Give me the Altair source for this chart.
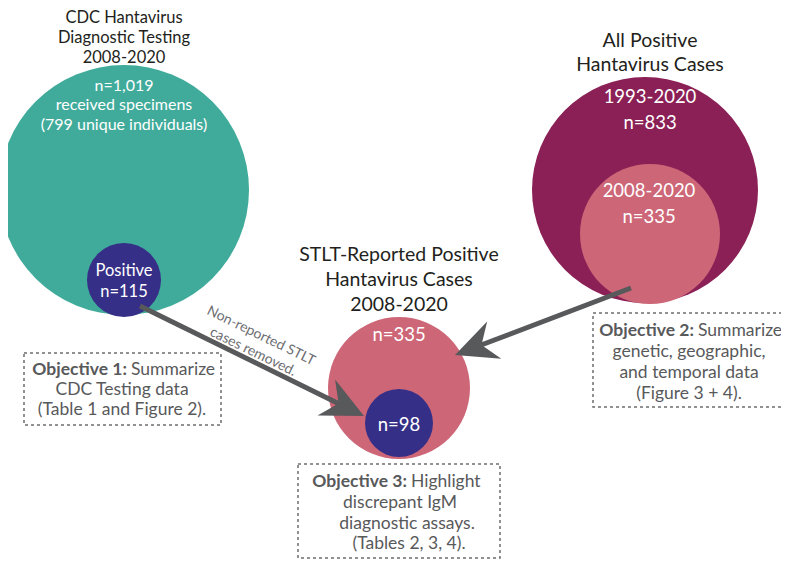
import math
import altair as alt
import pandas as pd

# ---------------- data ----------------
circle_names = ["CDC testing", "CDC positive", "All positive 1993-2020",
                "All positive 2008-2020", "STLT-reported", "STLT positive"]
circle_x = [124, 124, 645, 650, 399, 399]
circle_y = [190, 280, 190, 234, 388, 423]
circle_r = [125, 37, 113, 70, 71, 34]
circle_color = ["#40ab9b", "#352f87", "#8a2055", "#cd6677", "#cd6677", "#352f87"]

arrow_start_x = [140, 631]
arrow_start_y = [306, 288]
arrow_tip_x = [364, 455]
arrow_tip_y = [416, 355]

box_x1 = [24, 593, 298]
box_x2 = [221, 784, 500]
box_y1 = [353, 313, 464]
box_y2 = [425, 407, 558]

cdc_title = ["CDC Hantavirus", "Diagnostic Testing", "2008-2020"]
cdc_title_x = [124, 124, 124]
cdc_title_y = [18, 38, 58]

big_title = ["All Positive", "Hantavirus Cases",
             "STLT-Reported Positive", "Hantavirus Cases", "2008-2020"]
big_title_x = [650, 650, 399, 399, 399]
big_title_y = [41, 65, 255, 280, 305]

teal_text = ["n=1,019", "received specimens", "(799 unique individuals)"]
teal_x = [124, 124, 124]
teal_y = [85.5, 105, 124.5]

pos_text = ["Positive", "n=115"]
pos_x = [124, 124]
pos_y = [271, 292]

big_inner_text = ["1993-2020", "n=833", "2008-2020", "n=335", "n=335", "n=98"]
big_inner_x = [650, 650, 649, 649, 399, 399]
big_inner_y = [97, 123, 191, 217, 335, 425]

note_text = ["Non-reported STLT", "cases removed."]
note_x = [261, 253]
note_y = [336, 352]

obj_bold = ["Objective 1:", "Objective 2:", "Objective 3:"]
obj_bold_x = [127, 694, 407]
obj_bold_y = [370, 331, 482]
obj_rest = ["Summarize", "Summarize", "Highlight"]
obj_line_text = ["CDC Testing data", "(Table 1 and Figure 2).",
                 "genetic, geographic,", "and temporal data", "(Figure 3 + 4).",
                 "discrepant IgM", "diagnostic assays.", "(Tables 2, 3, 4)."]
obj_line_x = [122, 122, 689, 689, 689, 400, 407, 409]
obj_line_y = [390, 410, 352, 373, 394, 503, 524, 544]

# ---------------- styles ----------------
GRAY = "#58595b"
FONT = "Lato"
W, H = 773, 553
xs = alt.Scale(domain=[8, 8 + W], nice=False, zero=False)
ys = alt.Scale(domain=[8 + H, 8], nice=False, zero=False)


def X(f="x"):
    return alt.X(f"{f}:Q", scale=xs, axis=None)


def Y(f="y"):
    return alt.Y(f"{f}:Q", scale=ys, axis=None)


circles = pd.DataFrame({
    "name": circle_names, "x": circle_x, "y": circle_y,
    "s": [(2 * r) ** 2 for r in circle_r], "c": circle_color,
    "i": list(range(len(circle_names))),
})
circle_layer = alt.Chart(circles).mark_circle(opacity=1).encode(
    x=X(), y=Y(), size=alt.Size("s:Q", scale=None),
    color=alt.Color("c:N", scale=None), order=alt.Order("i:Q"))

# arrows
HEAD = 21  # half-length of arrowhead (px)
rows_line, rows_head = [], []
for sx, sy, tx, ty in zip(arrow_start_x, arrow_start_y, arrow_tip_x, arrow_tip_y):
    dx, dy = tx - sx, ty - sy
    L = math.hypot(dx, dy)
    ux, uy = dx / L, dy / L
    rows_line.append({"x": sx, "y": sy, "x2": tx - 28 * ux, "y2": ty - 28 * uy})
    rows_head.append({"x": tx - HEAD * ux, "y": ty - HEAD * uy,
                      "a": math.degrees(math.atan2(ux, -uy)) % 360})
line_layer = alt.Chart(pd.DataFrame(rows_line)).mark_rule(
    strokeWidth=5, color=GRAY, strokeCap="butt").encode(
    x=X(), y=Y(), x2="x2:Q", y2="y2:Q")
head_path = "M0,-1 L0.95,1 L0,0.35 L-0.95,1 Z"
head_layer = alt.Chart(pd.DataFrame(rows_head)).mark_point(
    shape=head_path, filled=True, opacity=1, color=GRAY, size=(2 * HEAD) ** 2,
    strokeWidth=0).encode(x=X(), y=Y(), angle=alt.Angle("a:Q", scale=None))

# boxes
boxes = pd.DataFrame({"x": box_x1, "x2": box_x2, "y": box_y1, "y2": box_y2})
box_layer = alt.Chart(boxes).mark_rect(
    fillOpacity=0, stroke="#6d6e71", strokeWidth=1.5, strokeDash=[3, 3]).encode(
    x=X(), x2="x2:Q", y=Y(), y2="y2:Q")


def text_layer(xv, yv, tv, size, color, **kw):
    df = pd.DataFrame({"x": xv, "y": yv, "t": tv})
    return alt.Chart(df).mark_text(font=FONT, fontSize=size, color=color,
                                   baseline="middle", **kw).encode(
        x=X(), y=Y(), text="t:N")


t_cdc = text_layer(cdc_title_x, cdc_title_y, cdc_title, 16.5, "#231f20", align="center")
t_big = text_layer(big_title_x, big_title_y, big_title, 19.5, "#231f20", align="center")
t_teal = text_layer(teal_x, teal_y, teal_text, 16, "white", align="center")
t_pos = text_layer(pos_x, pos_y, pos_text, 16.5, "white", align="center")
t_inner = text_layer(big_inner_x, big_inner_y, big_inner_text, 18.5, "white", align="center")
t_note = text_layer(note_x, note_y, note_text, 14, "#6d6e71", align="center", angle=26)
t_bold = text_layer(obj_bold_x, obj_bold_y, obj_bold, 17.5, GRAY, align="right",
                    fontWeight="bold")
t_rest = text_layer([v + 4 for v in obj_bold_x], obj_bold_y, obj_rest, 17.5, GRAY,
                    align="left")
t_lines = text_layer(obj_line_x, obj_line_y, obj_line_text, 17.5, GRAY, align="center")

chart = alt.layer(circle_layer, line_layer, head_layer, box_layer,
                  t_cdc, t_big, t_teal, t_pos, t_inner, t_note, t_bold, t_rest,
                  t_lines).properties(
    width=W, height=H, padding=0, autosize=alt.AutoSizeParams(type="none"),
    background="white"
).configure_view(stroke=None)

chart.save("out.html", embed_options={"renderer": "svg", "actions": False})
